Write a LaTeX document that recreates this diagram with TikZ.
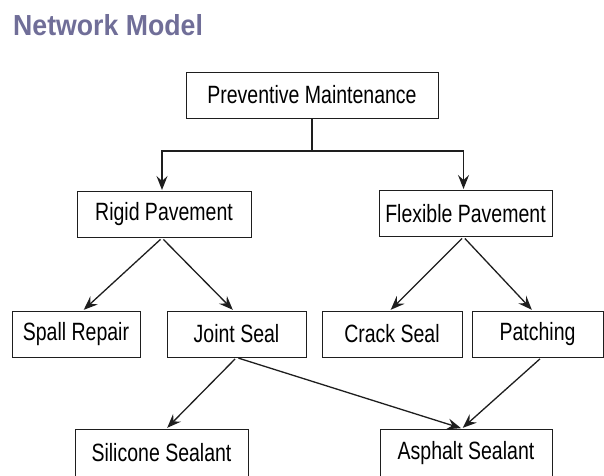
\documentclass[tikz,border=0pt]{standalone}
\usepackage{fontspec}
\setmainfont[FakeStretch=0.78]{Liberation Sans}
\newfontfamily\titlefont[FakeStretch=0.92]{Liberation Sans Bold}
\usetikzlibrary{arrows.meta}
\definecolor{titlegray}{RGB}{112,110,152}
\definecolor{inkline}{RGB}{30,30,30}
\tikzset{
  box/.style={draw=inkline, line width=1pt, rectangle, inner sep=0pt,
    minimum height=46pt, font=\fontsize{25}{27}\selectfont},
  link/.style={draw=inkline, line width=1.3pt,
    -{Stealth[length=14pt,width=11pt,inset=5pt]},
    shorten <=2pt, shorten >=1pt},
  trunk/.style={draw=inkline, line width=1.3pt}
}
\begin{document}
\begin{tikzpicture}[x=1pt,y=-1pt]
  \useasboundingbox (0,0) rectangle (604,475);
  \clip (0,0) rectangle (604,475);

  % heading
  \node[anchor=base west, inner sep=0pt, text=titlegray,
        font=\titlefont\fontsize{29}{32}\selectfont] (title) at (13,35) {Network Model};

  % boxes
  \node[box, minimum width=252pt] (pm)    at (312,95)    {Preventive Maintenance};
  \node[box, minimum width=174pt] (rigid) at (164,214.5) {Rigid Pavement};
  \node[box, minimum width=173pt] (flex)  at (465.5,213.5) {Flexible Pavement};
  \node[box, minimum width=128pt] (spall) at (76,334)    {Spall Repair};
  \node[box, minimum width=139pt] (joint) at (236.5,334) {Joint Seal};
  \node[box, minimum width=140pt] (crack) at (392,334)   {Crack Seal};
  \node[box, minimum width=131pt] (patch) at (537.5,334) {Patching};
  \node[box, minimum width=173pt, minimum height=48pt] (sil) at (161.5,453) {Silicone Sealant};
  \node[box, minimum width=172pt, minimum height=48pt] (asp) at (466,453)   {Asphalt Sealant};

  % branch from the root
  \coordinate (split) at (pm.south |- 0,151);
  \draw[trunk] (pm.south) -- (split);
  \draw[link, shorten <=0pt] (split) -| ([xshift=-2pt]rigid.north);
  \draw[link, shorten <=0pt] (split) -| ([xshift=-2pt]flex.north);

  % pavement types to treatments
  \draw[link] ([xshift=-2pt]rigid.south) -- ([xshift=7pt]spall.north);
  \draw[link] ([xshift=-2pt]rigid.south) -- ([xshift=-3pt]joint.north);
  \draw[link] ([xshift=-2pt]flex.south) -- ([xshift=-2pt]crack.north);
  \draw[link] ([xshift=-2pt]flex.south) -- ([xshift=-5pt]patch.north);

  % treatments to sealants
  \draw[link] (joint.south) -- ([xshift=5pt]sil.north);
  \draw[link] (joint.south) -- ([xshift=-4pt]asp.north);
  \draw[link] ([xshift=4pt]patch.south) -- ([xshift=-4pt]asp.north);
\end{tikzpicture}
\end{document}
